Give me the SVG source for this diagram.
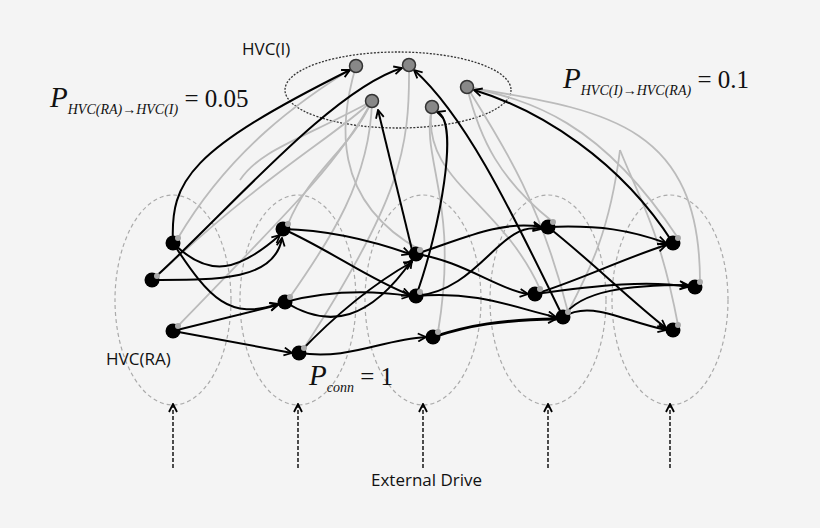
<svg xmlns="http://www.w3.org/2000/svg" width="820" height="528" viewBox="0 0 820 528">
<style>
.bg{fill:#f4f4f4}
.grp{fill:none;stroke:#aaa;stroke-width:1.2;stroke-dasharray:4,3}
.e{fill:none;stroke:#000;stroke-width:2;marker-end:url(#ah)}
.g{fill:none;stroke:#bbb;stroke-width:1.8}
.n{fill:#000}
.d{fill:#aaa}
.i{fill:#888;stroke:#333;stroke-width:1.5}
.s{font-family:"Open Sans","Liberation Sans",sans-serif;font-size:17px;fill:#111}
.t{font-family:"Liberation Serif",serif;fill:#111}
.dr{stroke:#222;stroke-width:1.6;stroke-dasharray:4,2;marker-end:url(#ah)}
</style>
<defs><marker id="ah" markerWidth="10" markerHeight="10" refX="9" refY="5" orient="auto" markerUnits="userSpaceOnUse"><path d="M1,1 L9,5 L1,9" fill="none" stroke="#000" stroke-width="1.8"/></marker></defs>
<rect class="bg" width="820" height="528"/>
<g id="groups">
<ellipse class="grp" cx="173" cy="300" rx="58" ry="105"/>
<ellipse class="grp" cx="298" cy="300" rx="58" ry="105"/>
<ellipse class="grp" cx="423" cy="300" rx="58" ry="105"/>
<ellipse class="grp" cx="548" cy="300" rx="58" ry="105"/>
<ellipse class="grp" cx="670" cy="300" rx="58" ry="105"/>
<ellipse cx="398" cy="90" rx="113" ry="38" fill="none" stroke="#333" stroke-width="1.3" stroke-dasharray="2,1.5"/>
</g>
<g id="connectors">
<path class="g" d="M356,66 C300,100 230,150 178,238"/>
<path class="g" d="M372,101 C330,140 270,170 157,276"/>
<path class="g" d="M372,101 C340,160 300,200 178,326"/>
<path class="g" d="M372,101 C350,150 310,170 288,224"/>
<path class="g" d="M372,101 C370,180 330,240 290,297"/>
<path class="g" d="M409,65 C410,150 400,200 304,348"/>
<path class="g" d="M372,101 C300,140 260,150 240,180"/>
<path class="g" d="M432,107 C420,160 460,200 438,332"/>
<path class="g" d="M432,107 C420,180 500,200 540,289"/>
<path class="g" d="M467,87 C480,140 500,180 553,222"/>
<path class="g" d="M467,87 C530,100 600,120 678,238"/>
<path class="g" d="M467,87 C500,140 540,200 568,312"/>
<path class="g" d="M467,87 C600,110 700,120 700,282"/>
<path class="g" d="M620,150 C640,200 660,230 678,325"/>
<path class="g" d="M620,150 C610,230 590,270 568,312"/>
<path class="g" d="M356,66 C340,120 330,200 420,250"/>
<path class="e" d="M173,243 C170,180 190,150 350,70"/>
<path class="e" d="M152,280 C220,220 330,90 402,68"/>
<path class="e" d="M413,254 L378,110"/>
<path class="e" d="M416,296 C440,230 460,120 437,112"/>
<path class="e" d="M563,317 C520,230 470,120 414,70"/>
<path class="e" d="M673,243 C620,160 540,110 474,90"/>
<path class="e" d="M173,243 C210,280 240,270 280,235"/>
<path class="e" d="M152,280 C220,280 275,280 282,238"/>
<path class="e" d="M173,243 C210,300 230,320 278,304"/>
<path class="e" d="M173,331 L278,305"/>
<path class="e" d="M173,331 L292,353"/>
<path class="e" d="M283,229 C330,230 370,240 410,254"/>
<path class="e" d="M283,229 C330,250 370,280 410,295"/>
<path class="e" d="M285,302 C330,290 370,290 410,296"/>
<path class="e" d="M285,302 C330,330 370,320 412,260"/>
<path class="e" d="M299,353 C340,310 380,280 412,262"/>
<path class="e" d="M299,353 C350,360 380,340 426,337"/>
<path class="e" d="M416,254 C460,240 500,220 541,227"/>
<path class="e" d="M416,254 C460,260 500,290 528,294"/>
<path class="e" d="M416,296 C480,290 500,220 541,229"/>
<path class="e" d="M416,296 C480,290 520,310 556,317"/>
<path d="M433,337 C470,325 500,320 556,319" fill="none" stroke="#000" stroke-width="3" marker-end="url(#ah)"/>
<path class="e" d="M548,227 C600,225 630,230 666,243"/>
<path class="e" d="M548,227 C590,260 630,300 666,328"/>
<path class="e" d="M535,294 C580,280 620,260 666,245"/>
<path class="e" d="M535,294 C600,285 650,280 688,287"/>
<path class="e" d="M563,317 C580,290 630,285 688,285"/>
<path class="e" d="M563,317 C590,300 620,320 666,330"/>
<line class="dr" x1="173" y1="468" x2="173" y2="404"/>
<line class="dr" x1="298" y1="468" x2="298" y2="404"/>
<line class="dr" x1="423" y1="468" x2="423" y2="404"/>
<line class="dr" x1="548" y1="468" x2="548" y2="404"/>
<line class="dr" x1="670" y1="468" x2="670" y2="404"/>
</g>
<g id="hvci">
<circle class="i" cx="356" cy="66" r="6.5"/>
<circle class="i" cx="409" cy="65" r="6.5"/>
<circle class="i" cx="467" cy="87" r="6.5"/>
<circle class="i" cx="372" cy="101" r="6.5"/>
<circle class="i" cx="432" cy="107" r="6.5"/>
</g>
<g id="hvcra">
<circle class="n" cx="173" cy="243" r="7.5"/><circle class="d" cx="178" cy="238" r="3"/>
<circle class="n" cx="152" cy="280" r="7.5"/><circle class="d" cx="157" cy="276" r="3"/>
<circle class="n" cx="173" cy="331" r="7.5"/><circle class="d" cx="178" cy="326" r="3"/>
<circle class="n" cx="283" cy="229" r="7.5"/><circle class="d" cx="288" cy="224" r="3"/>
<circle class="n" cx="285" cy="302" r="7.5"/><circle class="d" cx="290" cy="297" r="3"/>
<circle class="n" cx="299" cy="353" r="7.5"/><circle class="d" cx="304" cy="348" r="3"/>
<circle class="n" cx="416" cy="254" r="7.5"/><circle class="d" cx="420" cy="250" r="3"/>
<circle class="n" cx="416" cy="296" r="7.5"/><circle class="d" cx="420" cy="292" r="3"/>
<circle class="n" cx="433" cy="337" r="7.5"/><circle class="d" cx="438" cy="332" r="3"/>
<circle class="n" cx="548" cy="227" r="7.5"/><circle class="d" cx="553" cy="222" r="3"/>
<circle class="n" cx="535" cy="294" r="7.5"/><circle class="d" cx="540" cy="289" r="3"/>
<circle class="n" cx="563" cy="317" r="7.5"/><circle class="d" cx="568" cy="312" r="3"/>
<circle class="n" cx="673" cy="243" r="7.5"/><circle class="d" cx="678" cy="238" r="3"/>
<circle class="n" cx="695" cy="287" r="7.5"/><circle class="d" cx="700" cy="282" r="3"/>
<circle class="n" cx="673" cy="330" r="7.5"/><circle class="d" cx="678" cy="325" r="3"/>
</g>
<g id="labels">
<text class="s" x="242" y="55">HVC(I)</text>
<text class="s" x="106" y="365">HVC(RA)</text>
<text class="s" x="371" y="486" font-size="16">External Drive</text>
<text class="t" x="50" y="107"><tspan font-size="29" font-style="italic">P</tspan><tspan font-size="14" font-style="italic" dy="7">HVC(RA)→HVC(I)</tspan><tspan font-size="25" dy="-7"> = 0.05</tspan></text>
<text class="t" x="563" y="88"><tspan font-size="29" font-style="italic">P</tspan><tspan font-size="14" font-style="italic" dy="7">HVC(I)→HVC(RA)</tspan><tspan font-size="25" dy="-7"> = 0.1</tspan></text>
<text class="t" x="309" y="385"><tspan font-size="29" font-style="italic">P</tspan><tspan font-size="14" font-style="italic" dy="7">conn</tspan><tspan font-size="25" dy="-7"> = 1</tspan></text>
</g>
</svg>
